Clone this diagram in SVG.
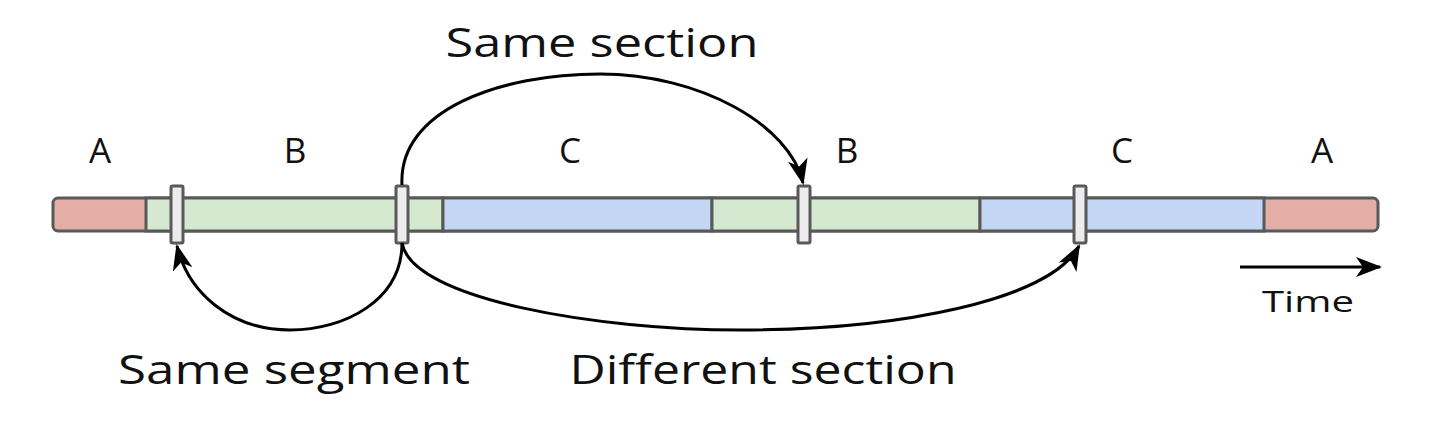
<svg xmlns="http://www.w3.org/2000/svg" width="1444" height="422" viewBox="0 0 1444 422">
<style>
.seg{stroke:#595959;stroke-width:3}
.green{fill:#d5e8d0}.blue{fill:#c3d6f4}
.mark{fill:#ececec;stroke:#595959;stroke-width:3}
.lbl{font-family:"Open Sans","Liberation Sans",sans-serif;fill:#111;text-anchor:middle}
.conn{fill:none;stroke:#000;stroke-width:3}
</style>
<defs>
<marker id="ah" viewBox="0 0 26 20" refX="24" refY="10" markerWidth="26" markerHeight="20" markerUnits="userSpaceOnUse" orient="auto">
<path d="M0,0 L26,10 L0,20 L7,10 z" fill="#000"/>
</marker>
</defs>
<g id="bar">
<rect x="53" y="198" width="1325" height="33" rx="5" fill="#e2aea6" class="seg"/>
<rect x="146" y="198" width="297" height="33" class="seg green"/>
<rect x="443" y="198" width="269" height="33" class="seg blue"/>
<rect x="712" y="198" width="268" height="33" class="seg green"/>
<rect x="980" y="198" width="284" height="33" class="seg blue"/>
</g>
<g id="markers">
<rect id="m1" x="171" y="186" width="12" height="57" rx="1.5" class="mark"/>
<rect id="m2" x="396" y="186" width="12" height="57" rx="1.5" class="mark"/>
<rect id="m3" x="798" y="186" width="12" height="57" rx="1.5" class="mark"/>
<rect id="m4" x="1074" y="186" width="12" height="57" rx="1.5" class="mark"/>
</g>
<g id="section-labels" class="lbl" font-size="35">
<text x="100" y="163">A</text>
<text x="295" y="163">B</text>
<text x="570" y="163">C</text>
<text x="847" y="163">B</text>
<text x="1122" y="163">C</text>
<text x="1322" y="163">A</text>
</g>
<g id="connectors">
<path class="conn" d="M402,185 C398,110 500,74 600,74 C700,74 790,125 803,183" marker-end="url(#ah)"/>
<path class="conn" d="M402,243 C402,300 345,330 290,330 C230,330 188,292 177,246" marker-end="url(#ah)"/>
<path class="conn" d="M402,243 C412,300 600,330 740,330 C900,330 1050,300 1079,246" marker-end="url(#ah)"/>
<path class="conn" d="M1240,267 L1380,267" marker-end="url(#ah)"/>
</g>
<g id="texts" class="lbl">
<text x="602" y="57" font-size="41" textLength="313" lengthAdjust="spacingAndGlyphs">Same section</text>
<text x="294" y="384" font-size="41" textLength="352" lengthAdjust="spacingAndGlyphs">Same segment</text>
<text x="763" y="384" font-size="41" textLength="387" lengthAdjust="spacingAndGlyphs">Different section</text>
<text x="1308" y="312" font-size="29" textLength="92" lengthAdjust="spacingAndGlyphs">Time</text>
</g>
</svg>
